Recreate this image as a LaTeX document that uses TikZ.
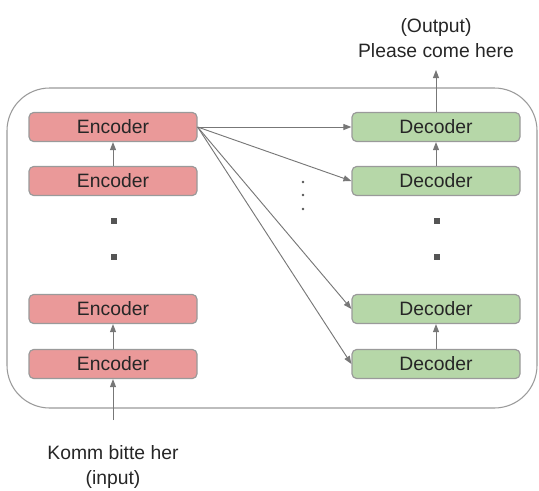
\documentclass[tikz,border=0pt]{standalone}
\usepackage{fontspec}
\setmainfont{Liberation Sans}
\usetikzlibrary{arrows.meta}
\definecolor{encfill}{HTML}{EA9999}
\definecolor{decfill}{HTML}{B6D7A8}
\definecolor{boxline}{HTML}{9A9A9A}
\definecolor{wire}{HTML}{777777}
\definecolor{dotc}{HTML}{555555}
\begin{document}
\begin{tikzpicture}[x=0.75pt,y=-0.75pt,
  block/.style={draw=boxline,line width=0.9pt,rounded corners=3.5pt,
    minimum width=168*0.75pt,minimum height=29*0.75pt,inner sep=0pt,
    font=\fontsize{14.5pt}{17pt}\selectfont,text=black!85},
  enc/.style={block,fill=encfill},
  dec/.style={block,fill=decfill},
  link/.style={draw=wire,line width=0.7pt,-{Triangle[length=6pt,width=4.5pt]}},
  caption/.style={font=\fontsize{14.5pt}{19pt}\selectfont,text=black!85,align=center,inner sep=0pt},
  sq/.style={fill=dotc,minimum size=6*0.75pt,inner sep=0pt},
  pt/.style={circle,fill=dotc,minimum size=2.6*0.75pt,inner sep=0pt}]
\useasboundingbox (0,0) rectangle (539,490);

% outer frame
\draw[draw=boxline,line width=0.8pt,rounded corners=32pt] (7,88) rectangle (537,408);

% encoder stack
\node[enc] (e1) at (113,127) {Encoder};
\node[enc] (e2) at (113,181) {Encoder};
\node[enc] (e3) at (113,309) {Encoder};
\node[enc] (e4) at (113,364) {Encoder};

% decoder stack
\node[dec] (d1) at (436,127) {Decoder};
\node[dec] (d2) at (436,181) {Decoder};
\node[dec] (d3) at (436,309) {Decoder};
\node[dec] (d4) at (436,364) {Decoder};

% elided layers
\node[sq] (ls1) at (114,221) {};
\node[sq] (ls2) at (114,257) {};
\node[sq] (rs1) at (437,221) {};
\node[sq] (rs2) at (437,257) {};
\node[pt] (m1) at (303,182) {};
\node[pt] (m2) at (303,195) {};
\node[pt] (m3) at (303,209) {};

% texts
\node[caption] (inp) at (113,467) {Komm bitte her\\(input)};
\node[caption] (outp) at (436,38) {(Output)\\Please come here};
\coordinate (inbase) at (113,420);
\coordinate (outtip) at (436,70);

% stack connections
\draw[link] (inbase) -- (e4.south);
\draw[link] (e4) -- (e3);
\draw[link] (e2) -- (e1);
\draw[link] (d4) -- (d3);
\draw[link] (d2) -- (d1);
\draw[link] (d1.north) -- (outtip);

% encoder output fanned to every decoder
\foreach \d in {d1,d2,d3,d4}
  \draw[link] (e1.east) -- (\d.west);
\end{tikzpicture}
\end{document}
